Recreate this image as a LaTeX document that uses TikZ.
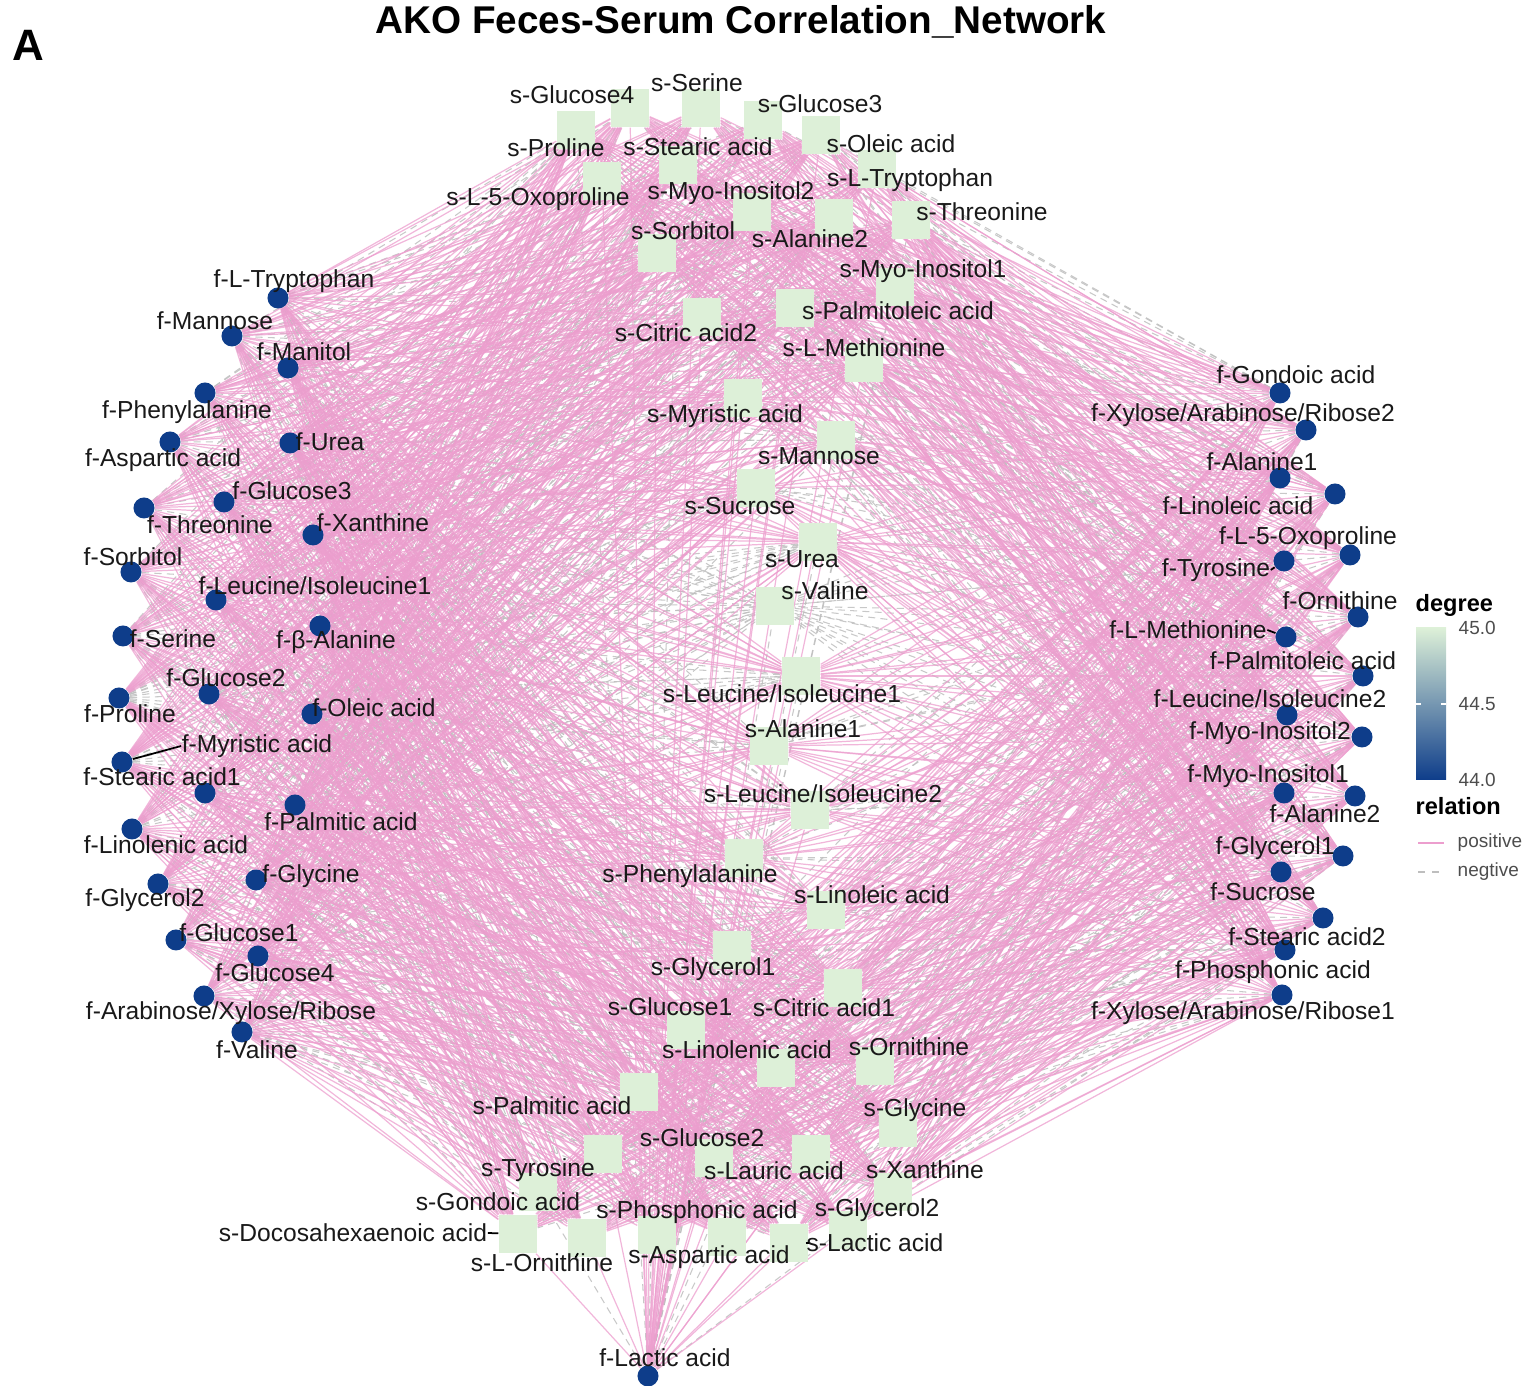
\documentclass[tikz,border=0pt]{standalone}
\usepackage{fontspec}
\setmainfont{Liberation Sans}
\usepackage{tikz}
\usetikzlibrary{backgrounds}

\definecolor{sgreen}{RGB}{221,240,216}
\definecolor{fblue}{RGB}{14,61,138}
\definecolor{pinkline}{RGB}{236,158,206}
\definecolor{grayline}{RGB}{190,190,190}
\definecolor{legtext}{RGB}{77,77,77}

\begin{document}
\begin{tikzpicture}[x=0.01cm,y=-0.01cm,
  snode/.style={rectangle,fill=sgreen,minimum size=0.38cm,inner sep=0pt},
  fnode/.style={circle,fill=fblue,minimum size=0.21cm,inner sep=0pt},
  lab/.style={font=\fontsize{7}{8}\selectfont,inner sep=0pt,text=black!90},
  legtick/.style={font=\fontsize{5.4}{6}\selectfont,text=legtext,anchor=west,inner sep=0pt},
  leghead/.style={font=\bfseries\fontsize{6.7}{8}\selectfont,anchor=west,inner sep=0pt},
  poslink/.style={pinkline,line width=0.35pt,opacity=0.75},
  neglink/.style={grayline,line width=0.3pt,dash pattern=on 2pt off 1.5pt,opacity=0.85},
  lead/.style={black,line width=0.5pt}]

\useasboundingbox (0,0) rectangle (1526,1386);

\node[font=\bfseries\fontsize{12.5}{14}\selectfont] (panel) at (28,45) {A};
\node[font=\bfseries\fontsize{11}{13}\selectfont] (title) at (741,22) {AKO Feces-Serum Correlation\_Network};

% serum metabolites
\node[snode] (s1) at (630,108) {};
\node[snode] (s2) at (701,108) {};
\node[snode] (s3) at (763,120) {};
\node[snode] (s4) at (576,130) {};
\node[snode] (s5) at (678,165) {};
\node[snode] (s6) at (821,135) {};
\node[snode] (s7) at (602,181) {};
\node[snode] (s8) at (752,212) {};
\node[snode] (s9) at (877,169) {};
\node[snode] (s10) at (657,253) {};
\node[snode] (s11) at (834,218) {};
\node[snode] (s12) at (911,220) {};
\node[snode] (s13) at (895,287) {};
\node[snode] (s14) at (795,308) {};
\node[snode] (s15) at (702,317) {};
\node[snode] (s16) at (864,363) {};
\node[snode] (s17) at (743,398) {};
\node[snode] (s18) at (836,440) {};
\node[snode] (s19) at (756,488) {};
\node[snode] (s20) at (818,542) {};
\node[snode] (s21) at (775,606) {};
\node[snode] (s22) at (801,676) {};
\node[snode] (s23) at (769,746) {};
\node[snode] (s24) at (810,810) {};
\node[snode] (s25) at (744,858) {};
\node[snode] (s26) at (826,910) {};
\node[snode] (s27) at (732,950) {};
\node[snode] (s28) at (686,1030) {};
\node[snode] (s29) at (843,988) {};
\node[snode] (s30) at (776,1068) {};
\node[snode] (s31) at (875,1066) {};
\node[snode] (s32) at (639,1092) {};
\node[snode] (s33) at (898,1128) {};
\node[snode] (s34) at (714,1158) {};
\node[snode] (s35) at (603,1154) {};
\node[snode] (s36) at (811,1154) {};
\node[snode] (s37) at (893,1192) {};
\node[snode] (s38) at (538,1192) {};
\node[snode] (s39) at (657,1235) {};
\node[snode] (s40) at (848,1230) {};
\node[snode] (s41) at (518,1234) {};
\node[snode] (s42) at (587,1238) {};
\node[snode] (s43) at (727,1237) {};
\node[snode] (s44) at (789,1243) {};

% feces metabolites
\node[fnode] (f1) at (278,298) {};
\node[fnode] (f2) at (232,336) {};
\node[fnode] (f3) at (288,368) {};
\node[fnode] (f4) at (205,393) {};
\node[fnode] (f5) at (170,442) {};
\node[fnode] (f6) at (290,443) {};
\node[fnode] (f7) at (224,502) {};
\node[fnode] (f8) at (144,508) {};
\node[fnode] (f9) at (313,535) {};
\node[fnode] (f10) at (131,572) {};
\node[fnode] (f11) at (216,600) {};
\node[fnode] (f12) at (123,636) {};
\node[fnode] (f13) at (320,626) {};
\node[fnode] (f14) at (209,694) {};
\node[fnode] (f15) at (119,698) {};
\node[fnode] (f16) at (312,714) {};
\node[fnode] (f17) at (122,762) {};
\node[fnode] (f18) at (205,793) {};
\node[fnode] (f19) at (295,805) {};
\node[fnode] (f20) at (132,829) {};
\node[fnode] (f21) at (256,880) {};
\node[fnode] (f22) at (158,884) {};
\node[fnode] (f23) at (176,940) {};
\node[fnode] (f24) at (258,956) {};
\node[fnode] (f25) at (204,996) {};
\node[fnode] (f26) at (242,1032) {};
\node[fnode] (f27) at (1280,393) {};
\node[fnode] (f28) at (1306,430) {};
\node[fnode] (f29) at (1280,478) {};
\node[fnode] (f30) at (1335,494) {};
\node[fnode] (f31) at (1350,555) {};
\node[fnode] (f32) at (1284,561) {};
\node[fnode] (f33) at (1358,617) {};
\node[fnode] (f34) at (1286,637) {};
\node[fnode] (f35) at (1363,676) {};
\node[fnode] (f36) at (1287,715) {};
\node[fnode] (f37) at (1362,737) {};
\node[fnode] (f38) at (1284,793) {};
\node[fnode] (f39) at (1355,796) {};
\node[fnode] (f40) at (1343,856) {};
\node[fnode] (f41) at (1281,872) {};
\node[fnode] (f42) at (1323,918) {};
\node[fnode] (f43) at (1285,950) {};
\node[fnode] (f44) at (1282,995) {};
\node[fnode] (f45) at (648,1376) {};

% labels on top
\node[lab] (s1l) at (572,95) {s-Glucose4};
\node[lab] (s2l) at (697,83) {s-Serine};
\node[lab] (s3l) at (820,104) {s-Glucose3};
\node[lab] (s4l) at (556,148) {s-Proline};
\node[lab] (s5l) at (698,147) {s-Stearic acid};
\node[lab] (s6l) at (891,144) {s-Oleic acid};
\node[lab] (s7l) at (538,199) {s-L-5-Oxoproline};
\node[lab] (s8l) at (731,193) {s-Myo-Inositol2};
\node[lab] (s9l) at (910,180) {s-L-Tryptophan};
\node[lab] (s10l) at (683,231) {s-Sorbitol};
\node[lab] (s11l) at (810,239) {s-Alanine2};
\node[lab] (s12l) at (982,212) {s-Threonine};
\node[lab] (s13l) at (923,271) {s-Myo-Inositol1};
\node[lab] (s14l) at (898,311) {s-Palmitoleic acid};
\node[lab] (s15l) at (686,333) {s-Citric acid2};
\node[lab] (s16l) at (864,348) {s-L-Methionine};
\node[lab] (s17l) at (725,416) {s-Myristic acid};
\node[lab] (s18l) at (819,456) {s-Mannose};
\node[lab] (s19l) at (740,506) {s-Sucrose};
\node[lab] (s20l) at (802,559) {s-Urea};
\node[lab] (s21l) at (825,591) {s-Valine};
\node[lab] (s22l) at (782,694) {s-Leucine/Isoleucine1};
\node[lab] (s23l) at (803,729) {s-Alanine1};
\node[lab] (s24l) at (823,794) {s-Leucine/Isoleucine2};
\node[lab] (s25l) at (690,876) {s-Phenylalanine};
\node[lab] (s26l) at (872,895) {s-Linoleic acid};
\node[lab] (s27l) at (713,969) {s-Glycerol1};
\node[lab] (s28l) at (670,1007) {s-Glucose1};
\node[lab] (s29l) at (824,1008) {s-Citric acid1};
\node[lab] (s30l) at (747,1050) {s-Linolenic acid};
\node[lab] (s31l) at (909,1047) {s-Ornithine};
\node[lab] (s32l) at (552,1106) {s-Palmitic acid};
\node[lab] (s33l) at (915,1110) {s-Glycine};
\node[lab] (s34l) at (702,1138) {s-Glucose2};
\node[lab] (s35l) at (538,1170) {s-Tyrosine};
\node[lab] (s36l) at (774,1171) {s-Lauric acid};
\node[lab] (s37l) at (925,1170) {s-Xanthine};
\node[lab] (s38l) at (498,1202) {s-Gondoic acid};
\node[lab] (s39l) at (697,1212) {s-Phosphonic acid};
\node[lab] (s40l) at (877,1210) {s-Glycerol2};
\node[lab] (s41l) at (353,1233) {s-Docosahexaenoic acid};
\node[lab] (s42l) at (542,1263) {s-L-Ornithine};
\node[lab] (s43l) at (709,1257) {s-Aspartic acid};
\node[lab] (s44l) at (875,1243) {s-Lactic acid};
\node[lab] (f1l) at (294,281) {f-L-Tryptophan};
\node[lab] (f2l) at (215,321) {f-Mannose};
\node[lab] (f3l) at (304,352) {f-Manitol};
\node[lab] (f4l) at (187,412) {f-Phenylalanine};
\node[lab] (f5l) at (163,460) {f-Aspartic acid};
\node[lab] (f6l) at (330,442) {f-Urea};
\node[lab] (f7l) at (292,491) {f-Glucose3};
\node[lab] (f8l) at (210,525) {f-Threonine};
\node[lab] (f9l) at (373,523) {f-Xanthine};
\node[lab] (f10l) at (133,557) {f-Sorbitol};
\node[lab] (f11l) at (315,586) {f-Leucine/Isoleucine1};
\node[lab] (f12l) at (173,639) {f-Serine};
\node[lab] (f13l) at (336,642) {f-β-Alanine};
\node[lab] (f14l) at (226,678) {f-Glucose2};
\node[lab] (f15l) at (130,714) {f-Proline};
\node[lab] (f16l) at (374,708) {f-Oleic acid};
\node[lab] (f17l) at (257,746) {f-Myristic acid};
\node[lab] (f18l) at (162,777) {f-Stearic acid1};
\node[lab] (f19l) at (341,822) {f-Palmitic acid};
\node[lab] (f20l) at (166,845) {f-Linolenic acid};
\node[lab] (f21l) at (311,876) {f-Glycine};
\node[lab] (f22l) at (145,900) {f-Glycerol2};
\node[lab] (f23l) at (239,933) {f-Glucose1};
\node[lab] (f24l) at (275,973) {f-Glucose4};
\node[lab] (f25l) at (231,1013) {f-Arabinose/Xylose/Ribose};
\node[lab] (f26l) at (257,1050) {f-Valine};
\node[lab] (f27l) at (1296,375) {f-Gondoic acid};
\node[lab] (f28l) at (1243,415) {f-Xylose/Arabinose/Ribose2};
\node[lab] (f29l) at (1262,462) {f-Alanine1};
\node[lab] (f30l) at (1238,506) {f-Linoleic acid};
\node[lab] (f31l) at (1308,538) {f-L-5-Oxoproline};
\node[lab] (f32l) at (1216,570) {f-Tyrosine};
\node[lab] (f33l) at (1340,601) {f-Ornithine};
\node[lab] (f34l) at (1188,630) {f-L-Methionine};
\node[lab] (f35l) at (1303,661) {f-Palmitoleic acid};
\node[lab] (f36l) at (1270,699) {f-Leucine/Isoleucine2};
\node[lab] (f37l) at (1270,733) {f-Myo-Inositol2};
\node[lab] (f38l) at (1268,776) {f-Myo-Inositol1};
\node[lab] (f39l) at (1325,814) {f-Alanine2};
\node[lab] (f40l) at (1275,848) {f-Glycerol1};
\node[lab] (f41l) at (1263,892) {f-Sucrose};
\node[lab] (f42l) at (1307,937) {f-Stearic acid2};
\node[lab] (f43l) at (1273,972) {f-Phosphonic acid};
\node[lab] (f44l) at (1243,1013) {f-Xylose/Arabinose/Ribose1};
\node[lab] (f45l) at (665,1358) {f-Lactic acid};

% repel segments
\draw[lead] (f17l.west) -- (f17);
\draw[lead] (f32l.east) -- (f32);
\draw[lead] (f34l.east) -- (f34);
\draw[lead] (s41l.east) -- (s41);
\draw[lead] (s42l.north) ++(36,0) -- (s42);
\draw[lead] (s44l.west) -- (s44);

% correlations
\begin{pgfonlayer}{background}
\foreach \i in {1,...,45}{
  \foreach \j in {1,...,44}{
    \pgfmathtruncatemacro\k{mod(\i*37+\j*53+\i*\j*3,100)}
    \ifnum\k<28 \draw[neglink] (f\i) -- (s\j); \fi
  }
}
\foreach \i in {1,...,45}{
  \foreach \j in {1,...,44}{
    \pgfmathtruncatemacro\k{mod(\i*37+\j*53+\i*\j*3,100)}
    \ifnum\k>27 \draw[poslink] (f\i) -- (s\j); \fi
  }
}
\end{pgfonlayer}

% legend
\node[leghead] (degt) at (1415,605) {degree};
\shade[top color=sgreen,bottom color=fblue] (1416,628) rectangle (1446,780);
\draw[white,line width=0.4pt] (1416,704) -- (1421,704) (1441,704) -- (1446,704);
\node[legtick] (t450) at (1458,628) {45.0};
\node[legtick] (t445) at (1458,704) {44.5};
\node[legtick] (t440) at (1458,780) {44.0};
\node[leghead] (relt) at (1415,806) {relation};
\coordinate (p1) at (1418,843); \coordinate (p2) at (1444,843);
\coordinate (n1) at (1418,872); \coordinate (n2) at (1444,872);
\draw[pinkline,line width=0.5pt] (p1) -- (p2);
\draw[grayline,line width=0.5pt,dash pattern=on 2pt off 2pt] (n1) -- (n2);
\node[legtick] (post) at (1457,843) {positive};
\node[legtick] (negt) at (1457,872) {negtive};

\end{tikzpicture}
\end{document}
